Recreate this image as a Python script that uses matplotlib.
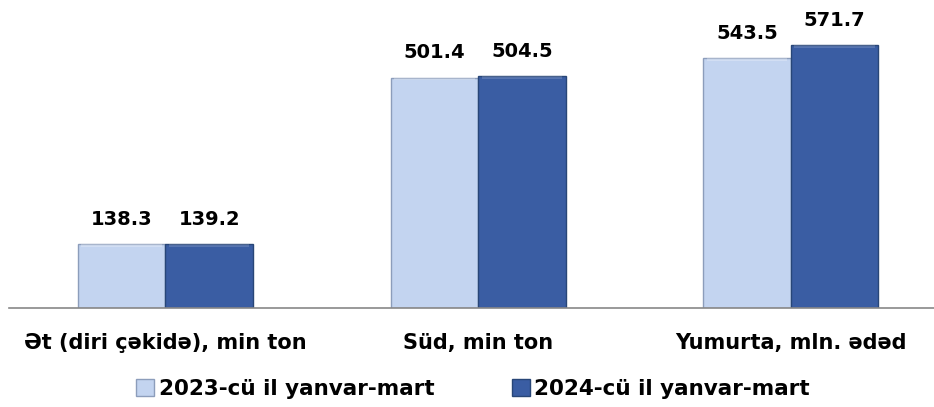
import numpy as np
import matplotlib.pyplot as plt
from matplotlib.patches import Patch

plt.rcParams['font.family'] = ['DejaVu Sans']

categories = ["Ət (diri çəkidə), min ton", "Süd, min ton", "Yumurta, mln. ədəd"]
series_names = ["2023-cü il yanvar-mart", "2024-cü il yanvar-mart"]
values_2023 = [138.3, 501.4, 543.5]
values_2024 = [139.2, 504.5, 571.7]

colors = ["#C3D4F0", "#3A5DA3"]
edges = ["#8C9DBB", "#284677"]

fig = plt.figure(figsize=(9.34, 4.07), dpi=100)
ax = fig.add_axes([9 / 934, 1 - 308 / 407, 925 / 934, 308 / 407])

x = np.arange(len(categories))
w = 0.28
for i, vals in enumerate([values_2023, values_2024]):
    pos = x + (i - 0.5) * w
    bars = ax.bar(pos, vals, width=w, color=colors[i], edgecolor=edges[i],
                  linewidth=1.0, label=series_names[i], zorder=2)
    # light bevel on top edge
    ax.bar(pos, [6] * len(vals), bottom=np.array(vals) - 6, width=w * 0.92,
           color="white", alpha=0.25 if i == 0 else 0.15, linewidth=0, zorder=3)
    for b, v in zip(bars, vals):
        ax.annotate(f"{v:.1f}", (b.get_x() + b.get_width() / 2, v),
                    xytext=(0, 11), textcoords="offset points",
                    ha="center", va="bottom", fontsize=14, fontweight="bold")

ax.set_xlim(-0.5, 2.458)
ax.set_ylim(0, 670)
ax.set_yticks([])
ax.set_xticks(x)
ax.set_xticklabels(categories, fontsize=15, fontweight="bold")
ax.tick_params(axis="x", length=0, pad=18)
for s in ["top", "right", "left"]:
    ax.spines[s].set_visible(False)
ax.spines["bottom"].set_color("#888888")
ax.spines["bottom"].set_linewidth(1.2)

handles = [Patch(facecolor=colors[i], edgecolor=edges[i], label=series_names[i]) for i in range(2)]
fig.legend(handles=handles, loc="center", bbox_to_anchor=(473 / 934, 1 - 389 / 407),
           ncol=2, frameon=False, prop={"size": 15.5, "weight": "bold"},
           handlelength=0.85, handleheight=0.85, handletextpad=0.2, columnspacing=3.6)

fig.savefig("out.png", dpi=100)
